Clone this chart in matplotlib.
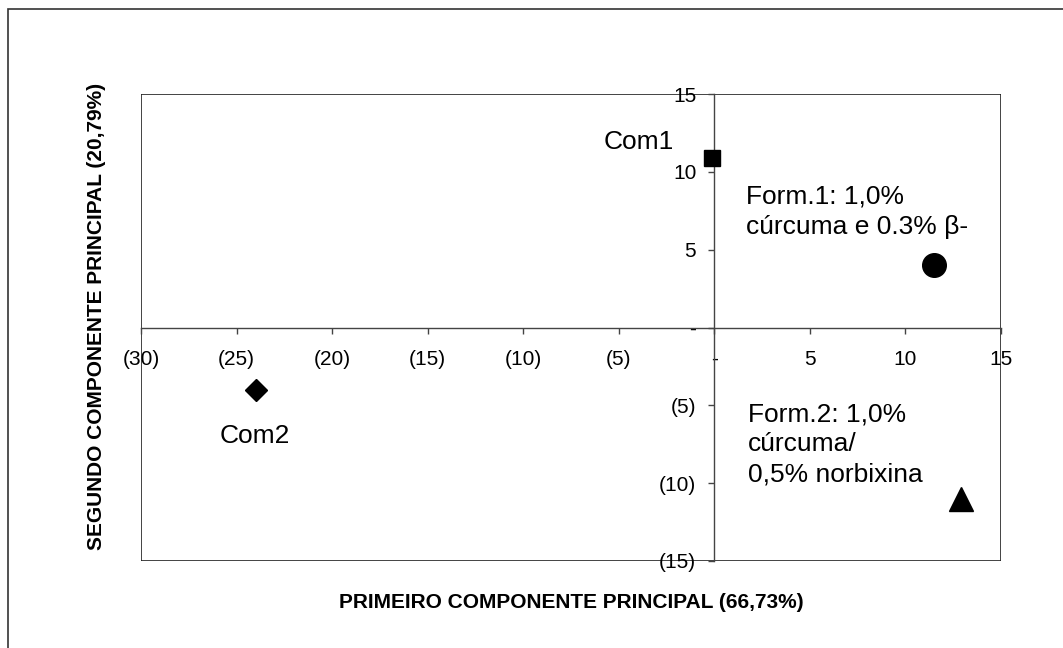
import matplotlib
matplotlib.use("Agg")
import matplotlib.pyplot as plt
from matplotlib.patches import Rectangle

plt.rcParams['font.family'] = ['Liberation Sans', 'DejaVu Sans']

# scores on the first two principal components
names = ["Com1", "Form.1", "Com2", "Form.2"]
pc1 = [-0.1, 11.5, -24.0, 12.9]
pc2 = [10.9, 4.0, -4.0, -11.0]
markers = ["s", "o", "D", "^"]
marker_sizes = [12, 17, 11.5, 17]

x_ticks = [-30, -25, -20, -15, -10, -5, 0, 5, 10, 15]
x_tick_labels = ["(30)", "(25)", "(20)", "(15)", "(10)", "(5)", "-", "5", "10", "15"]
y_ticks = [-15, -10, -5, 0, 5, 10, 15]
y_tick_labels = ["(15)", "(10)", "(5)", "-", "5", "10", "15"]

labels = ["Com1", "Form.1: 1,0%\ncúrcuma e 0.3% β-", "Com2",
          "Form.2: 1,0%\ncúrcuma/\n0,5% norbixina"]
label_pos = [(-5.8, 11.9), (1.65, 7.45), (-25.9, -6.95), (1.75, -7.5)]

W, H = 1063, 648
fig = plt.figure(figsize=(W / 100, H / 100), dpi=100)
fig.patches.append(Rectangle((8 / W, -0.1), 1.2, 1 - 9 / H + 0.1,
                             transform=fig.transFigure, fill=False,
                             edgecolor="#333333", lw=1.2))

ax = fig.add_axes([141 / W, (H - 561) / H, 860 / W, 467 / H])
ax.set_xlim(-30, 15)
ax.set_ylim(-15, 15)

# plot area frame
ax.add_patch(Rectangle((0, 0), 1, 1, transform=ax.transAxes, fill=False,
                       edgecolor="#222222", lw=1.2, zorder=1))

# axes crossing at the origin
ax.spines["left"].set_position(("data", 0))
ax.spines["bottom"].set_position(("data", 0))
ax.spines["right"].set_visible(False)
ax.spines["top"].set_visible(False)
for s in ["left", "bottom"]:
    ax.spines[s].set_color("#444444")
    ax.spines[s].set_linewidth(1.0)

ax.set_xticks(x_ticks)
ax.set_xticklabels(x_tick_labels)
ax.set_yticks(y_ticks)
ax.set_yticklabels(y_tick_labels)
ax.tick_params(axis="x", direction="out", length=4, width=1, color="#444444",
               labelsize=15, pad=12)
ax.tick_params(axis="y", direction="out", length=4, width=1, color="#444444",
               labelsize=15, pad=9)

for x, y, m, ms in zip(pc1, pc2, markers, marker_sizes):
    ax.plot(x, y, marker=m, markersize=ms, color="black", linestyle="none",
            clip_on=False, zorder=3)

for txt, (lx, ly) in zip(labels, label_pos):
    ax.text(lx, ly, txt, fontsize=19, ha="left", va="center",
            linespacing=1.32)

fig.text(571 / W, 1 - 603 / H, "PRIMEIRO COMPONENTE PRINCIPAL (66,73%)",
         fontsize=15, fontweight="bold", ha="center", va="center")
fig.text(97 / W, 1 - 316 / H, "SEGUNDO COMPONENTE PRINCIPAL (20,79%)",
         fontsize=15, fontweight="bold", ha="center", va="center",
         rotation=90)

fig.savefig("out.png", dpi=100)
